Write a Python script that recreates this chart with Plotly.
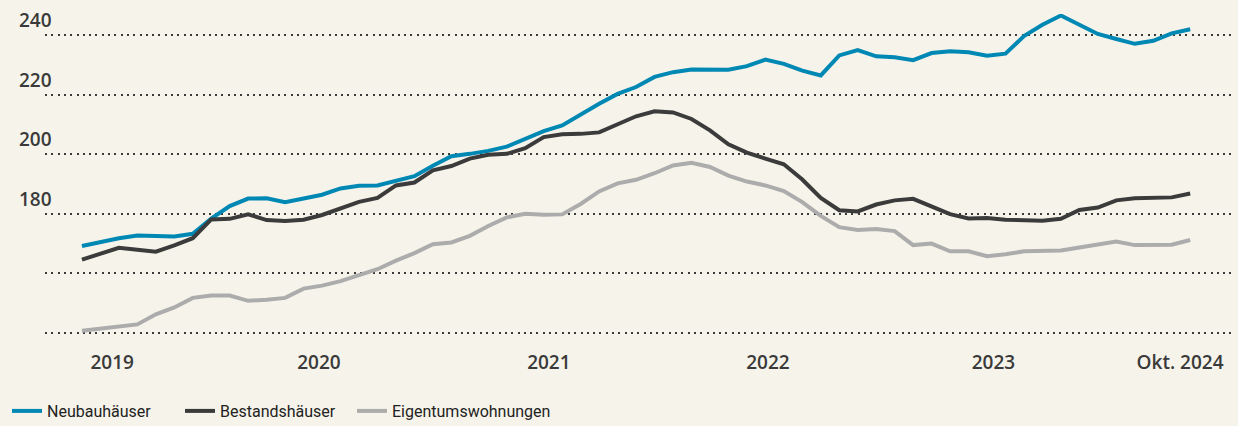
import plotly.graph_objects as go

months = list(range(61))  # Oct 2019 .. Oct 2024, monthly index

neubau = [169.2, 170.6, 171.8, 172.7, 172.6, 172.4, 173.3, 178.4, 182.6, 185.1,
          185.2, 183.9, 185.1, 186.4, 188.5, 189.4, 189.5, 191.0, 192.6, 196.1,
          199.3, 200.1, 201.1, 202.5, 205.2, 207.7, 209.6, 213.4, 216.9, 220.2,
          222.5, 225.9, 227.5, 228.4, 228.3, 228.3, 229.5, 231.7, 230.3, 228.0,
          226.4, 233.1, 234.9, 232.8, 232.5, 231.5, 233.9, 234.5, 234.2, 233.0,
          233.7, 239.6, 243.4, 246.5, 243.4, 240.3, 238.6, 237.0, 238.0, 240.5,
          241.9]

bestand = [164.6, 166.5, 168.6, 167.9, 167.3, 169.4, 171.8, 178.1, 178.3, 179.8,
           177.9, 177.6, 178.0, 179.6, 181.8, 184.0, 185.3, 189.5, 190.5, 194.6,
           196.0, 198.5, 199.8, 200.1, 202.0, 205.7, 206.7, 206.8, 207.3, 209.9,
           212.7, 214.4, 214.0, 211.8, 208.0, 203.3, 200.5, 198.5, 196.6, 191.5,
           185.3, 181.2, 180.8, 183.1, 184.5, 185.0, 182.6, 179.9, 178.4, 178.6,
           178.0, 177.7, 177.7, 178.3, 181.3, 182.1, 184.5, 185.2, 185.4, 185.5,
           186.8]

wohnungen = [140.8, 141.4, 142.0, 142.9, 146.3, 148.6, 151.8, 152.6, 152.6, 150.8,
             151.2, 151.8, 154.9, 155.9, 157.4, 159.5, 161.4, 164.3, 166.8, 169.8,
             170.4, 172.6, 175.9, 178.8, 180.0, 179.7, 179.8, 183.3, 187.5, 190.2,
             191.4, 193.6, 196.2, 197.1, 195.7, 192.8, 190.8, 189.5, 187.6, 183.9,
             179.3, 175.5, 174.6, 174.9, 174.2, 169.5, 170.0, 167.4, 167.4, 165.8,
             166.4, 167.4, 167.5, 167.7, 168.7, 169.6, 170.7, 169.5, 169.5, 169.6,
             171.2]

series_names = ["Neubauhäuser", "Bestandshäuser", "Eigentumswohnungen"]
series_colors = ["#0088b5", "#3b3b3b", "#acacac"]

x_tick_pos = [1.64, 12.83, 25.28, 37.14, 49.35, 59.45]
x_tick_text = ["2019", "2020", "2021", "2022", "2023", "Okt. 2024"]

grid_vals = [140, 160, 180, 200, 220, 240]
y_label_vals = [180, 200, 220, 240]

BG = "#f6f4ea"
TXT = "#3a3a3a"

legend_ids = ["legend", "legend2", "legend3"]
legend_x_px = [7, 180, 352]  # left edge of each legend item, in page pixels

fig = go.Figure()
for name, vals, col, lg in zip(series_names, [neubau, bestand, wohnungen], series_colors, legend_ids):
    fig.add_trace(go.Scatter(
        x=months, y=vals, name=name, mode="lines",
        line=dict(color=col, width=4),
        hoverinfo="skip", legend=lg,
    ))

for v in y_label_vals:
    fig.add_annotation(
        x=-0.0235, xref="paper", y=v, yref="y",
        text=str(v), showarrow=False, xanchor="left", yanchor="middle",
        yshift=15,
        font=dict(family="Open Sans", size=19, color=TXT, weight=600),
    )

L, R, T, B = 45, 2, 14, 84
W, H = 1238, 426
pw = W - L - R
ph = H - T - B

legend_font = dict(family="Roboto, sans-serif", size=16, color="#222")
legend_cfg = {}
for lg, xp in zip(legend_ids, legend_x_px):
    legend_cfg[lg] = dict(
        orientation="h", x=(xp - L) / pw, xanchor="left",
        y=-(411 - (H - B)) / ph, yanchor="middle",
        font=legend_font, bgcolor="rgba(0,0,0,0)", borderwidth=0,
    )

fig.update_layout(
    width=W, height=H,
    paper_bgcolor=BG, plot_bgcolor=BG,
    margin=dict(l=L, r=R, t=T, b=B, autoexpand=False),
    showlegend=True,
    xaxis=dict(
        range=[-2.0, 62.48], showgrid=False, zeroline=False, showline=False,
        tickmode="array", tickvals=x_tick_pos, ticktext=x_tick_text,
        ticks="", ticklabelstandoff=7, automargin=False,
        tickfont=dict(family="Open Sans", size=19, color=TXT, weight=600),
    ),
    yaxis=dict(
        range=[137, 247], showgrid=True, gridcolor="#3a3a3a", gridwidth=2,
        griddash="2px,4.3px", tickmode="array", tickvals=grid_vals,
        showticklabels=False, zeroline=False, showline=False, automargin=False,
    ),
    **legend_cfg,
)

fig.write_html(
    "out.html",
    config={"displayModeBar": False, "staticPlot": True},
    post_script="document.body.style.margin='0';document.body.style.background='%s';" % BG,
)
